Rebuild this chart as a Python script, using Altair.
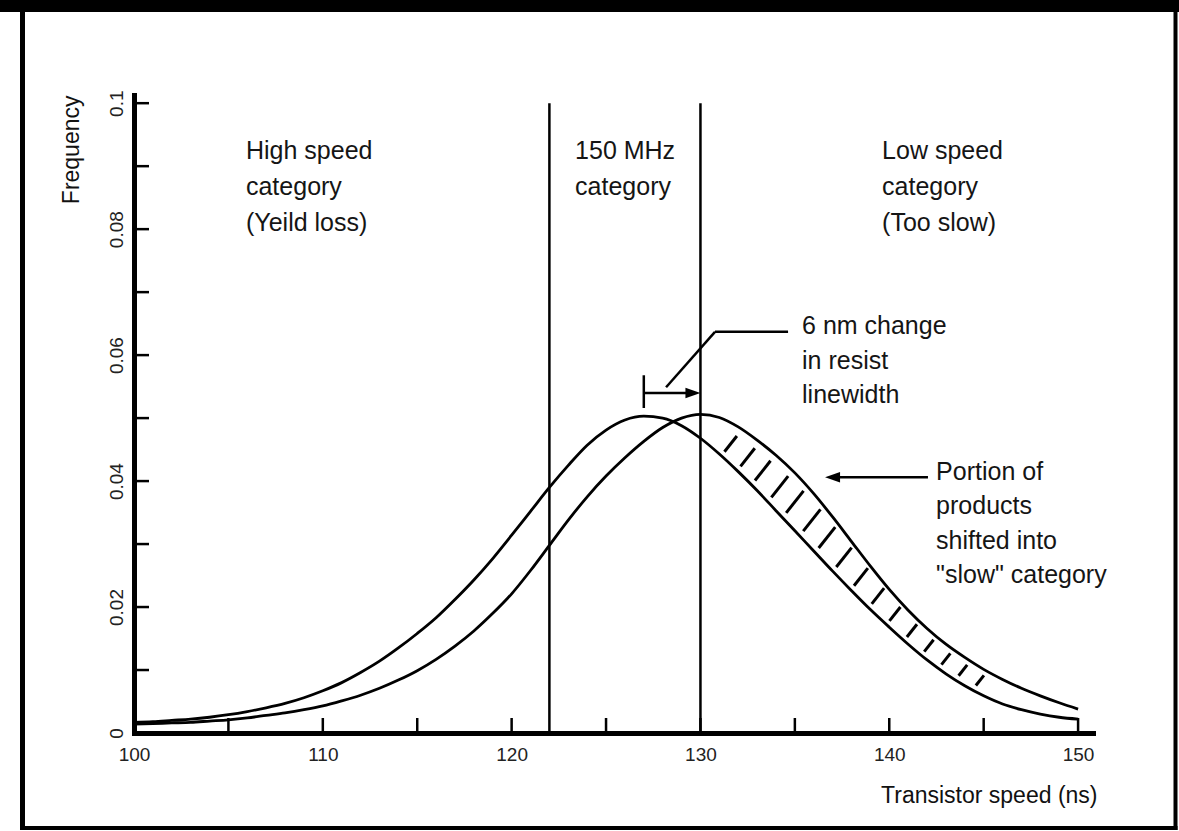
import altair as alt
import pandas as pd
import numpy as np

# ---------------- data ----------------
speed = list(range(100, 151))
freq_fast = [0.0017, 0.0018, 0.0020, 0.0022, 0.0025, 0.0029, 0.0034, 0.0040, 0.0047, 0.0056,
             0.0067, 0.0080, 0.0096, 0.0114, 0.0135, 0.0158, 0.0183, 0.0212, 0.0243, 0.0277,
             0.0314, 0.0352, 0.0390, 0.0425, 0.0457, 0.0481, 0.0497, 0.0503, 0.0500, 0.0488,
             0.0468, 0.0443, 0.0415, 0.0385, 0.0353, 0.0321, 0.0289, 0.0257, 0.0226, 0.0196,
             0.0168, 0.0141, 0.0116, 0.0094, 0.0075, 0.0059, 0.0046, 0.0037, 0.0030, 0.0025,
             0.0022]
freq_slow = [0.0014, 0.0015, 0.0016, 0.0017, 0.0019, 0.0021, 0.0024, 0.0028, 0.0032, 0.0037,
             0.0043, 0.0051, 0.0060, 0.0071, 0.0084, 0.0099, 0.0117, 0.0138, 0.0162, 0.0190,
             0.0221, 0.0258, 0.0298, 0.0338, 0.0375, 0.0408, 0.0437, 0.0463, 0.0485, 0.0500,
             0.0506, 0.0501, 0.0486, 0.0465, 0.0441, 0.0413, 0.0380, 0.0343, 0.0304, 0.0265,
             0.0228, 0.0195, 0.0166, 0.0141, 0.0120, 0.0101, 0.0085, 0.0071, 0.0059, 0.0048,
             0.0038]

category_bounds = [122, 130]
bound_top = 0.1

x_tick_vals = [105, 110, 115, 120, 125, 130, 135, 140, 145, 150]
y_tick_vals = [0.01, 0.02, 0.03, 0.04, 0.05, 0.06, 0.07, 0.08, 0.09, 0.1]
x_label_vals = [100, 110, 120, 130, 140, 150]
y_label_vals = [0, 0.02, 0.04, 0.06, 0.08, 0.1]

cat_labels = ["High speed\ncategory\n(Yeild loss)", "150 MHz\ncategory", "Low speed\ncategory\n(Too slow)"]
cat_x = [105.93, 123.36, 139.62]
cat_y = [0.0911, 0.0911, 0.0911]

note_labels = ["6 nm change\nin resist\nlinewidth", "Portion of\nproducts\nshifted into\n\"slow\" category"]
note_x = [135.38, 142.48]
note_y = [0.0633, 0.0402]

seg_x = [127.0, 127.0, 128.18, 130.77, 136.9]
seg_y = [0.0568, 0.0540, 0.0549, 0.0637, 0.0406]
seg_x2 = [127.0, 129.7, 130.77, 134.64, 142.05]
seg_y2 = [0.0516, 0.0540, 0.0637, 0.0637, 0.0406]

arrow_right_tip = [(130.0, 0.0540)]
arrow_left_tip = [(136.6, 0.0406)]

hatch_x = [131.6, 132.5, 133.3, 134.2, 135.0, 135.9, 136.7, 137.6,
           138.5, 139.4, 140.3, 141.2, 142.1, 143.0, 143.9, 144.8]

# ---------------- geometry ----------------
W, H = 959, 638
XMIN, XMAX = 100, 150.79
YMAX = 0.1013
PX_PER_NS = W / (XMAX - XMIN)
PX_PER_FREQ = H / YMAX
FONT = "Liberation Sans"

xs = alt.Scale(domain=[XMIN, XMAX], nice=False, zero=False)
ys = alt.Scale(domain=[0, YMAX], nice=False, zero=False)

x_axis = alt.Axis(values=x_label_vals, format="d", ticks=False, tickSize=0, grid=False,
                  domainColor="black", domainWidth=5, domainCap="square",
                  labelFont=FONT, labelFontSize=19, labelColor="#222", labelPadding=12,
                  labelBaseline="top", labelFlush=False, labelOverlap=False,
                  title="Transistor speed (ns)", titleFont=FONT, titleFontSize=23,
                  titleFontWeight="normal", titleColor="#111", titleX=963, titleY=69,
                  titleAlign="right", titleBaseline="alphabetic", titleAngle=0)
y_axis = alt.Axis(values=y_label_vals, format="~g", ticks=False, tickSize=0, grid=False,
                  domainColor="black", domainWidth=5, domainCap="square",
                  labelFont=FONT, labelFontSize=19, labelColor="#222", labelPadding=12,
                  labelAngle=270, labelAlign="center", labelBaseline="alphabetic",
                  labelFlush=False, labelOverlap=False,
                  title="Frequency", titleFont=FONT, titleFontSize=23,
                  titleFontWeight="normal", titleColor="#111", titleX=-56, titleY=0,
                  titleAngle=270, titleAlign="right", titleBaseline="alphabetic")


def X(field):
    return alt.X(field, type="quantitative", scale=xs, axis=x_axis)


def Y(field):
    return alt.Y(field, type="quantitative", scale=ys, axis=y_axis)


# hatch segments between the curves, derived from the curve arrays
lo = np.interp(hatch_x, speed, freq_fast)
hi = np.interp(hatch_x, speed, freq_slow)
gap = hi - lo
mid = (hi + lo) / 2
hh = 0.19 * gap
ww = 0.15 * gap * PX_PER_FREQ / PX_PER_NS
df_hatch = pd.DataFrame({"x": np.array(hatch_x) - ww, "y": mid - hh,
                         "x2": np.array(hatch_x) + ww, "y2": mid + hh})

df_curves = pd.DataFrame({
    "speed": speed * 2,
    "freq": freq_fast + freq_slow,
    "curve": ["fast"] * len(speed) + ["slow"] * len(speed),
})

curves = alt.Chart(df_curves).mark_line(color="black", strokeWidth=2.8, interpolate="monotone").encode(
    x=X("speed"), y=Y("freq"), detail="curve:N",
)

bounds = alt.Chart(pd.DataFrame({"x": category_bounds, "top": [bound_top] * 2, "bot": [0] * 2})).mark_rule(
    color="black", strokeWidth=2.5).encode(x=X("x"), y=Y("top"), y2="bot:Q")

xticks = alt.Chart(pd.DataFrame({"t": x_tick_vals})).mark_rule(color="black", strokeWidth=2.5).encode(
    x=X("t"), y=alt.value(H), y2=alt.value(H - 15))
yticks = alt.Chart(pd.DataFrame({"t": y_tick_vals})).mark_rule(color="black", strokeWidth=2.5).encode(
    y=Y("t"), x=alt.value(0), x2=alt.value(15))

hatch = alt.Chart(df_hatch).mark_rule(color="black", strokeWidth=3).encode(
    x=X("x"), y=Y("y"), x2="x2:Q", y2="y2:Q")

segs = alt.Chart(pd.DataFrame({"x": seg_x, "y": seg_y, "x2": seg_x2, "y2": seg_y2})).mark_rule(
    color="black", strokeWidth=2.5).encode(x=X("x"), y=Y("y"), x2="x2:Q", y2="y2:Q")

AR_SIZE = 225
half_len = (AR_SIZE ** 0.5) / 2 / PX_PER_NS
df_ar = pd.DataFrame({"x": [t[0] - half_len for t in arrow_right_tip], "y": [t[1] for t in arrow_right_tip]})
df_al = pd.DataFrame({"x": [t[0] + half_len for t in arrow_left_tip], "y": [t[1] for t in arrow_left_tip]})
arrow_r = alt.Chart(df_ar).mark_point(shape="M1,0L-1,-0.7L-1,0.7Z", filled=True, color="black",
                                      opacity=1, size=AR_SIZE, strokeWidth=0).encode(x=X("x"), y=Y("y"))
arrow_l = alt.Chart(df_al).mark_point(shape="M-1,0L1,-0.7L1,0.7Z", filled=True, color="black",
                                      opacity=1, size=AR_SIZE, strokeWidth=0).encode(x=X("x"), y=Y("y"))

cat_text = alt.Chart(pd.DataFrame({"x": cat_x, "y": cat_y, "t": cat_labels})).mark_text(
    align="left", baseline="alphabetic", font=FONT, fontSize=25, lineHeight=36,
    lineBreak="\n", color="#151515").encode(x=X("x"), y=Y("y"), text="t:N")

note_text = alt.Chart(pd.DataFrame({"x": note_x, "y": note_y, "t": note_labels})).mark_text(
    align="left", baseline="alphabetic", font=FONT, fontSize=25, lineHeight=34.5,
    lineBreak="\n", color="#151515").encode(x=X("x"), y=Y("y"), text="t:N")

# outer frame of the figure (decoration, in pixels relative to plot origin)
one = pd.DataFrame({"a": [0]})
frame_top = alt.Chart(one).mark_rule(color="black", strokeWidth=12).encode(
    x=alt.value(-134), x2=alt.value(1045), y=alt.value(-89))
frame_left = alt.Chart(one).mark_rule(color="black", strokeWidth=5).encode(
    x=alt.value(-111.5), y=alt.value(-95), y2=alt.value(735))
frame_right = alt.Chart(one).mark_rule(color="black", strokeWidth=4).encode(
    x=alt.value(1041.5), y=alt.value(-95), y2=alt.value(735))
frame_bottom = alt.Chart(one).mark_rule(color="black", strokeWidth=4).encode(
    x=alt.value(-114), x2=alt.value(1043.5), y=alt.value(733))

chart = alt.layer(
    curves, bounds, xticks, yticks, hatch, segs, arrow_r, arrow_l, cat_text, note_text,
    frame_top, frame_left, frame_right, frame_bottom,
).properties(
    width=W, height=H,
    padding={"left": 134, "top": 95, "right": 86, "bottom": 98},
    autosize=alt.AutoSizeParams(type="none"),
    background="white",
).configure_view(stroke=None)

chart.save("out.html", embed_options={"renderer": "svg", "actions": False})
